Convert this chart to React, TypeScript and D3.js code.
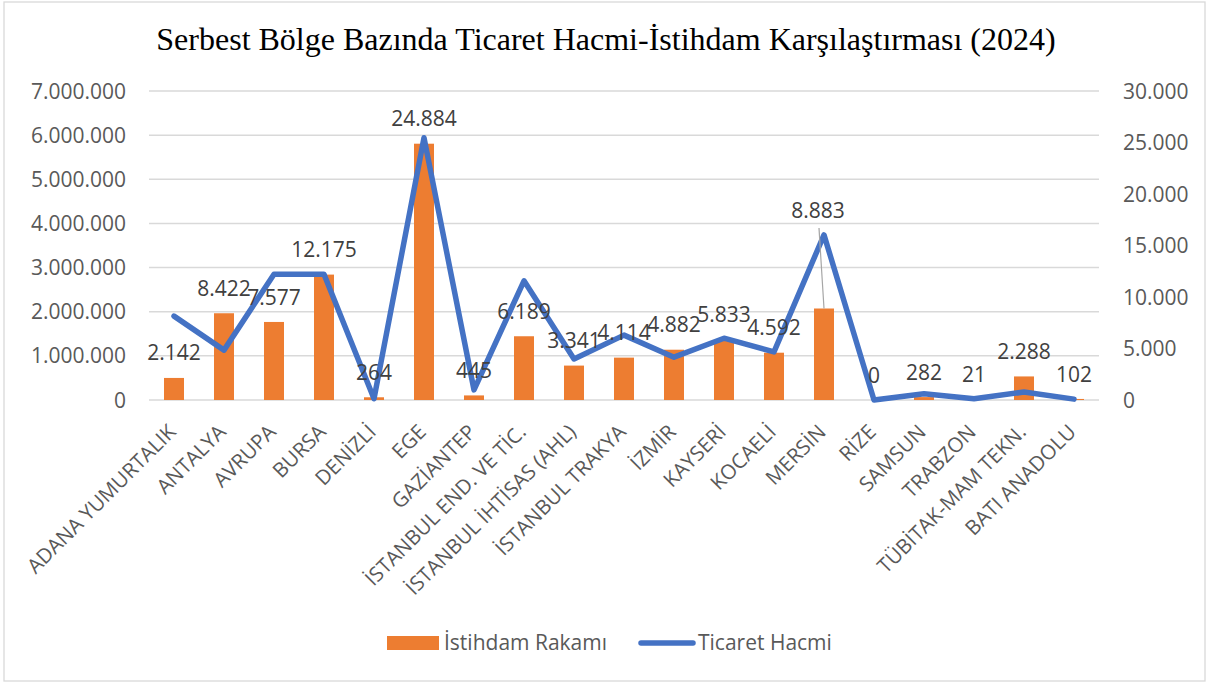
import React from "react";
import * as d3 from "d3";

// serbest bölgeler
const zones = [
  "ADANA YUMURTALIK",
  "ANTALYA",
  "AVRUPA",
  "BURSA",
  "DENİZLİ",
  "EGE",
  "GAZİANTEP",
  "İSTANBUL END. VE TİC.",
  "İSTANBUL İHTİSAS (AHL)",
  "İSTANBUL TRAKYA",
  "İZMİR",
  "KAYSERİ",
  "KOCAELİ",
  "MERSİN",
  "RİZE",
  "SAMSUN",
  "TRABZON",
  "TÜBİTAK-MAM TEKN.",
  "BATI ANADOLU",
];

// istihdam (sağ eksen)
const employment = [
  2142, 8422, 7577, 12175, 264, 24884, 445, 6189, 3341, 4114, 4882, 5833, 4592,
  8883, 0, 282, 21, 2288, 102,
];

// ticaret hacmi (sol eksen) - grafikten okunan tahmini değerler
const tradeVolume = [
  1900000, 1130000, 2850000, 2850000, 30000, 5940000, 230000, 2700000, 930000,
  1470000, 970000, 1400000, 1090000, 3740000, 0, 140000, 30000, 180000, 20000,
];

const leftTicks = [0, 1000000, 2000000, 3000000, 4000000, 5000000, 6000000, 7000000];
const rightTicks = [0, 5000, 10000, 15000, 20000, 25000, 30000];

const title = "Serbest Bölge Bazında Ticaret Hacmi-İstihdam Karşılaştırması (2024)";

const W = 1209;
const H = 684;
const plot = { left: 149, right: 1099, top: 91, bottom: 400 };
const ORANGE = "#ED7D31";
const BLUE = "#4472C4";
const FONT = "'Open Sans', 'Noto Sans', sans-serif";
const FS = 21;

const trFormat = d3.formatLocale({
  decimal: ",",
  thousands: ".",
  grouping: [3],
  currency: ["", ""],
}).format(",d");

export default function App() {
  const x = d3
    .scaleBand<string>()
    .domain(zones)
    .range([plot.left, plot.right])
    .paddingInner(0.6)
    .paddingOuter(0.3);
  const center = (z: string) => (x(z) || 0) + x.bandwidth() / 2;

  const yLeft = d3.scaleLinear().domain([0, 7000000]).range([plot.bottom, plot.top]);
  const yRight = d3.scaleLinear().domain([0, 30000]).range([plot.bottom, plot.top]);

  const line = d3
    .line<number>()
    .x((_, i) => center(zones[i]))
    .y((v) => yLeft(v));

  return (
    <svg width={W} height={H} style={{ display: "block", position: "absolute", left: 0, top: 0 }}>
      <rect x={0} y={0} width={W} height={H} fill="#fff" />
      <rect x={4} y={2} width={1201} height={679} fill="#fff" stroke="#d9d9d9" strokeWidth={1.3} />

      <text
        x={606}
        y={50}
        textAnchor="middle"
        fontFamily="'Liberation Serif', 'Times New Roman', serif"
        fontSize={32}
        fill="#000"
      >
        {title}
      </text>

      {/* grid */}
      {leftTicks.map((t) => (
        <line
          key={t}
          x1={plot.left}
          x2={plot.right}
          y1={yLeft(t)}
          y2={yLeft(t)}
          stroke="#d9d9d9"
          strokeWidth={1.5}
        />
      ))}

      {leftTicks.map((t) => (
        <text
          key={"l" + t}
          x={126}
          y={yLeft(t)}
          dy="0.36em"
          textAnchor="end"
          fontFamily={FONT}
          fontSize={FS}
          fill="#595959"
        >
          {trFormat(t)}
        </text>
      ))}
      {rightTicks.map((t) => (
        <text
          key={"r" + t}
          x={1123}
          y={yRight(t)}
          dy="0.36em"
          textAnchor="start"
          fontFamily={FONT}
          fontSize={FS}
          fill="#595959"
        >
          {trFormat(t)}
        </text>
      ))}

      {/* bars */}
      {zones.map((z, i) => (
        <rect
          key={z}
          x={x(z)}
          y={yRight(employment[i])}
          width={x.bandwidth()}
          height={plot.bottom - yRight(employment[i])}
          fill={ORANGE}
        />
      ))}

      <path
        d={line(tradeVolume) || ""}
        fill="none"
        stroke={BLUE}
        strokeWidth={5.5}
        strokeLinejoin="round"
        strokeLinecap="round"
      />

      {/* data labels */}
      {zones.map((z, i) => {
        const top = yRight(employment[i]);
        const moved = z === "MERSİN";
        const ly = moved ? 210 : top - 25;
        const lx = moved ? center(z) - 6 : center(z);
        return (
          <g key={"d" + z}>
            {moved && (
              <line x1={lx + 1} y1={ly + 18} x2={center(z)} y2={top} stroke="#a6a6a6" strokeWidth={1.2} />
            )}
            <text
              x={lx}
              y={ly}
              dy="0.36em"
              textAnchor="middle"
              fontFamily={FONT}
              fontSize={FS}
              fill="#404040"
            >
              {trFormat(employment[i])}
            </text>
          </g>
        );
      })}

      {/* category labels */}
      {zones.map((z) => (
        <text
          key={"c" + z}
          transform={`translate(${center(z) - 2},${plot.bottom + 28}) rotate(-45)`}
          textAnchor="end"
          dy="0.36em"
          fontFamily={FONT}
          fontSize={20.5}
          fill="#595959"
        >
          {z}
        </text>
      ))}

      {/* legend */}
      <rect x={387} y={636} width={52} height={14} fill={ORANGE} />
      <text x={444} y={650} fontFamily={FONT} fontSize={FS} fill="#595959">
        İstihdam Rakamı
      </text>
      <line x1={641} x2={693} y1={643} y2={643} stroke={BLUE} strokeWidth={5.5} strokeLinecap="round" />
      <text x={698} y={650} fontFamily={FONT} fontSize={FS} fill="#595959">
        Ticaret Hacmi
      </text>
    </svg>
  );
}
